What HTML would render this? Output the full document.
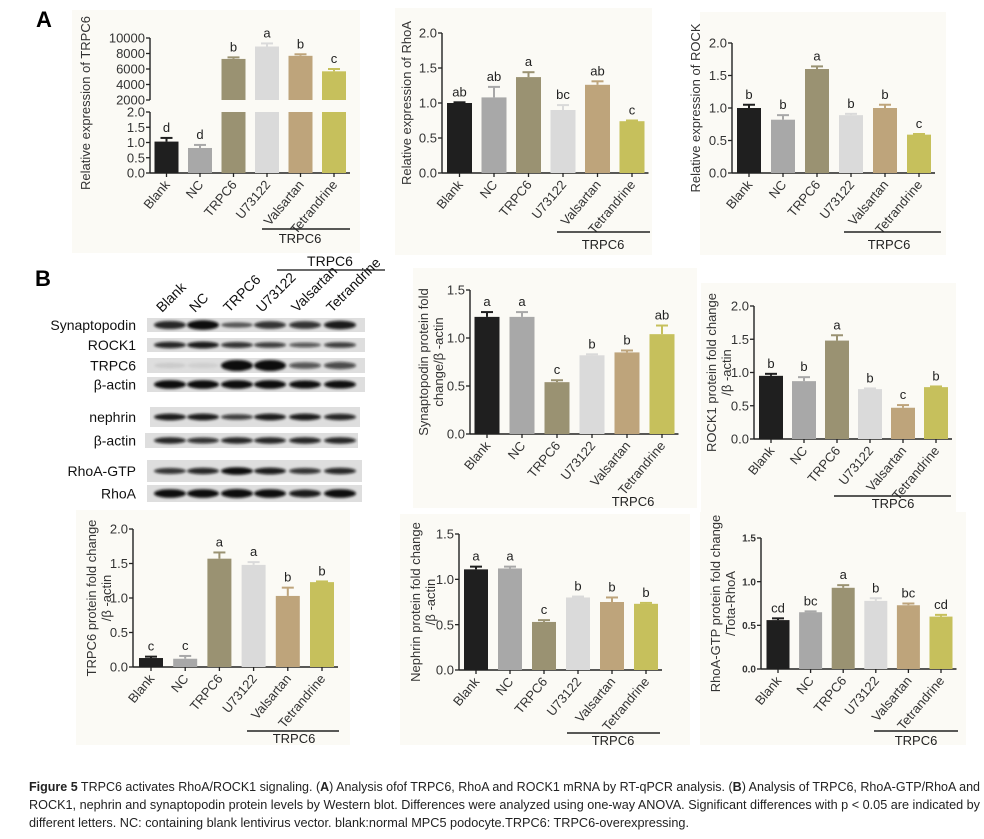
<!DOCTYPE html>
<html><head><meta charset="utf-8"><style>
body{margin:0;background:#fff}
svg{display:block;font-family:"Liberation Sans",Arial,sans-serif}
</style></head><body>
<svg id="fig" width="984" height="839" viewBox="0 0 984 839" xmlns="http://www.w3.org/2000/svg">
<defs><filter id="blur" x="-20%" y="-50%" width="140%" height="200%"><feGaussianBlur stdDeviation="1.2"/></filter></defs>
<text x="36" y="27" font-size="22" font-weight="bold">A</text>
<text x="35" y="286" font-size="22" font-weight="bold">B</text>
<g id="blot"></g>
<g id="charts"></g>
<g font-family="'Liberation Sans Narrow','Liberation Sans',sans-serif" font-size="13" fill="#222">
<text x="29" y="791" textLength="951" lengthAdjust="spacingAndGlyphs"><tspan font-weight="bold">Figure 5</tspan> TRPC6 activates RhoA/ROCK1 signaling. (<tspan font-weight="bold">A</tspan>) Analysis ofof TRPC6, RhoA and ROCK1 mRNA by RT-qPCR analysis. (<tspan font-weight="bold">B</tspan>) Analysis of TRPC6, RhoA-GTP/RhoA and</text>
<text x="29" y="809" textLength="951" lengthAdjust="spacingAndGlyphs">ROCK1, nephrin and synaptopodin protein levels by Western blot. Differences were analyzed using one-way ANOVA. Significant differences with p &lt; 0.05 are indicated by</text>
<text x="29" y="827" textLength="660" lengthAdjust="spacingAndGlyphs">different letters. NC: containing blank lentivirus vector. blank:normal MPC5 podocyte.TRPC6: TRPC6-overexpressing.</text>
</g>
</svg>
<script>
const categories = ["Blank","NC","TRPC6","U73122","Valsartan","Tetrandrine"];
const barColors = ["#1f1f1f","#a8a8a8","#9a9272","#dadada","#bea47b","#c6c05c"];
// values, error tops, letters per panel
const trpc6MrnaValues = [1.03,0.82,7300,8900,7700,5700];
const trpc6MrnaErr = [1.15,0.92,7500,9300,7900,6000];
const trpc6MrnaLetters = ["d","d","b","a","b","c"];
const rhoaMrnaValues = [1.0,1.08,1.37,0.9,1.26,0.74];
const rhoaMrnaErr = [1.01,1.23,1.44,0.97,1.31,0.75];
const rhoaMrnaLetters = ["ab","ab","a","bc","ab","c"];
const rockMrnaValues = [1.0,0.82,1.6,0.89,1.0,0.59];
const rockMrnaErr = [1.05,0.89,1.64,0.91,1.05,0.6];
const rockMrnaLetters = ["b","b","a","b","b","c"];
const synValues = [1.22,1.22,0.54,0.82,0.85,1.04];
const synErr = [1.27,1.27,0.56,0.83,0.87,1.13];
const synLetters = ["a","a","c","b","b","ab"];
const rock1ProtValues = [0.95,0.87,1.48,0.75,0.47,0.78];
const rock1ProtErr = [0.98,0.93,1.56,0.76,0.51,0.79];
const rock1ProtLetters = ["b","b","a","b","c","b"];
const trpc6ProtValues = [0.13,0.12,1.57,1.48,1.03,1.23];
const trpc6ProtErr = [0.15,0.16,1.66,1.52,1.15,1.24];
const trpc6ProtLetters = ["c","c","a","a","b","b"];
const nephrinValues = [1.11,1.12,0.53,0.8,0.75,0.73];
const nephrinErr = [1.14,1.14,0.55,0.81,0.8,0.74];
const nephrinLetters = ["a","a","c","b","b","b"];
const rhoaGtpValues = [0.56,0.65,0.93,0.78,0.73,0.6];
const rhoaGtpErr = [0.58,0.66,0.96,0.81,0.75,0.62];
const rhoaGtpLetters = ["cd","bc","a","b","bc","cd"];
const ticks2 = ["0.0","0.5","1.0","1.5","2.0"];
const ticks15 = ["0.0","0.5","1.0","1.5"];
const ticksUpper = ["2000","4000","6000","8000","10000"];
// blot band intensities (0-1) per row per lane
const blotRows = ["Synaptopodin","ROCK1","TRPC6","β-actin","nephrin","β-actin","RhoA-GTP","RhoA"];
const blotSyn = [0.8,0.95,0.55,0.75,0.75,0.85];
const blotRock = [0.8,0.85,0.75,0.7,0.6,0.7];
const blotTrpc = [0.08,0.06,1,1,0.6,0.65];
const blotActin1 = [0.95,0.95,0.95,0.95,0.9,0.9];
const blotNeph = [0.85,0.85,0.7,0.85,0.85,0.8];
const blotActin2 = [0.8,0.75,0.8,0.8,0.8,0.8];
const blotGtp = [0.75,0.8,0.95,0.85,0.75,0.8];
const blotRhoa = [0.95,0.95,1,0.95,0.85,0.95];

const NS="http://www.w3.org/2000/svg";
function el(tag,attrs,parent,txt){const e=document.createElementNS(NS,tag);for(const k in attrs)e.setAttribute(k,attrs[k]);if(txt!==undefined)e.textContent=txt;parent.appendChild(e);return e;}
const charts=document.getElementById('charts');

function panel(c){
  const g=el('g',{},charts);
  
  
  const bg=el('rect',{x:c.bg[0],y:c.bg[1],width:c.bg[2]-c.bg[0],height:c.bg[3]-c.bg[1],fill:'#fbfaf5'},g);
  
  
  const yS=v=>c.base-(v/c.max)*(c.base-c.top);
  const xS=i=>c.x0+i*c.sp;
  const tf=c.tickFont||13;
  c.ticks.forEach(t=>{const v=parseFloat(t);const y=yS(v);
    el('line',{x1:c.axisX-4,x2:c.axisX,y1:y,y2:y,stroke:'#222','stroke-width':1.3},g);
    const tt=el('text',{x:c.axisX-5,y:y+tf*0.36,'font-size':tf,'text-anchor':'end',fill:'#333','font-weight':c.tickBold?'bold':'normal'},g,t);
    
    
  });
  const last=xS(categories.length-1)+c.bw/2+4;
  const ax=el('line',{x1:c.axisX,x2:c.axisX,y1:c.top,y2:c.base,stroke:'#222','stroke-width':1.4},g);
  
  
  const xa=el('line',{x1:c.axisX,x2:last,y1:c.base,y2:c.base,stroke:'#222','stroke-width':1.4},g);
  
  
  c.values.forEach((v,i)=>{
    const cx=xS(i);const yv=yS(v),ye=yS(c.err[i]);
    const r=el('rect',{x:cx-c.bw/2,y:yv,width:c.bw,height:c.base-yv,fill:barColors[i]},g);
    
    
    el('line',{x1:cx,x2:cx,y1:ye,y2:yv,stroke:barColors[i],'stroke-width':2},g);
    el('line',{x1:cx-6,x2:cx+6,y1:ye,y2:ye,stroke:barColors[i],'stroke-width':2},g);
    const lt=el('text',{x:cx,y:ye-6,'font-size':13,'text-anchor':'middle',fill:'#222'},g,c.letters[i]);
    
    
    el('line',{x1:cx,x2:cx,y1:c.base,y2:c.base+4,stroke:'#222','stroke-width':1.3},g);
    const xl=el('text',{x:cx+4,y:c.base+12,'font-size':13,'text-anchor':'end',fill:'#333',transform:`rotate(-50 ${cx+4} ${c.base+12})`},g,categories[i]);
    
    
  });
  const cy=(c.top+c.base)/2;
  c.title.forEach((t,k)=>{const x=c.titleX+k*15;
    const tt=el('text',{x:x,y:cy,'font-size':13,'text-anchor':'middle',fill:'#333',transform:`rotate(-90 ${x} ${cy})`},g,t);
    
    
  });
  if(c.line){const l=el('line',{x1:c.line[0],x2:c.line[1],y1:c.line[2],y2:c.line[2],stroke:'#222','stroke-width':1.5},g);
    
    }
  const gt=el('text',{x:c.gText[0],y:c.gText[1],'font-size':13,'text-anchor':'middle',fill:'#222'},g,'TRPC6');
  
  
}

(function(){
  const g=el('g',{},charts);
  
  
  el('rect',{x:72,y:10,width:288,height:243,fill:'#fbfaf5'},g);
  const ax=150,lb=173,lt=112,ub=100,ut=38;
  const yL=v=>lb-(v/2)*(lb-lt);
  const yU=v=>ub-((v-2000)/8000)*(ub-ut);
  const xS=i=>166.5+i*33.5,bw=24;
  ticks2.forEach(t=>{const y=yL(parseFloat(t));el('line',{x1:ax-4,x2:ax,y1:y,y2:y,stroke:'#222','stroke-width':1.3},g);
    const tt=el('text',{x:ax-5,y:y+4.5,'font-size':13,'text-anchor':'end',fill:'#333'},g,t);
    
    });
  ticksUpper.forEach(t=>{const y=yU(parseFloat(t));el('line',{x1:ax-4,x2:ax,y1:y,y2:y,stroke:'#222','stroke-width':1.3},g);
    const tt=el('text',{x:ax-5,y:y+4.5,'font-size':13,'text-anchor':'end',fill:'#333'},g,t);
    
    });
  el('line',{x1:ax,x2:ax,y1:lt,y2:lb,stroke:'#222','stroke-width':1.4},g);
  el('line',{x1:ax,x2:ax,y1:ut,y2:ub,stroke:'#222','stroke-width':1.4},g);
  el('line',{x1:ax,x2:350,y1:lb,y2:lb,stroke:'#222','stroke-width':1.4},g);
  trpc6MrnaValues.forEach((v,i)=>{const cx=xS(i);let ye;
    if(v<=2){const y=yL(v);ye=yL(trpc6MrnaErr[i]);
      const r=el('rect',{x:cx-bw/2,y:y,width:bw,height:lb-y,fill:barColors[i]},g);
      
      
      el('line',{x1:cx,x2:cx,y1:ye,y2:y,stroke:barColors[i],'stroke-width':2},g);
    } else {const y=yU(v);ye=yU(trpc6MrnaErr[i]);
      const r=el('rect',{x:cx-bw/2,y:y,width:bw,height:ub-y,fill:barColors[i]},g);
      
      
      el('rect',{x:cx-bw/2,y:lt,width:bw,height:lb-lt,fill:barColors[i]},g);
      el('line',{x1:cx,x2:cx,y1:ye,y2:y,stroke:barColors[i],'stroke-width':2},g);}
    el('line',{x1:cx-6,x2:cx+6,y1:ye,y2:ye,stroke:barColors[i],'stroke-width':2},g);
    const l=el('text',{x:cx,y:ye-6,'font-size':13,'text-anchor':'middle',fill:'#222'},g,trpc6MrnaLetters[i]);
    
    
    el('line',{x1:cx,x2:cx,y1:lb,y2:lb+4,stroke:'#222','stroke-width':1.3},g);
    const xl=el('text',{x:cx+4,y:lb+12,'font-size':13,'text-anchor':'end',fill:'#333',transform:`rotate(-50 ${cx+4} ${lb+12})`},g,categories[i]);
    
    
  });
  const tt=el('text',{x:90,y:103,'font-size':13,'text-anchor':'middle',fill:'#333',transform:'rotate(-90 90 103)'},g,'Relative expression of TRPC6');
  
  
  const bl=el('line',{x1:262,x2:350,y1:229,y2:229,stroke:'#222','stroke-width':1.5},g);
  
  
  const gl=el('text',{x:300,y:243,'font-size':13,'text-anchor':'middle',fill:'#222'},g,'TRPC6');
  
  
})();

panel({name:'chart-rhoa-mrna',bg:[395,8,652,255],axisX:442,top:33,base:173,max:2,ticks:ticks2,x0:459.5,sp:34.5,bw:25,values:rhoaMrnaValues,err:rhoaMrnaErr,letters:rhoaMrnaLetters,title:['Relative expression of RhoA'],titleX:411,line:[557,650,232],gText:[603,249]});
panel({name:'chart-rock-mrna',bg:[700,12,946,255],axisX:732,top:43,base:173,max:2,ticks:ticks2,x0:749,sp:34,bw:24,values:rockMrnaValues,err:rockMrnaErr,letters:rockMrnaLetters,title:['Relative expression of ROCK'],titleX:700,line:[844,941,232],gText:[889,249]});
panel({name:'chart-synaptopodin-protein',bg:[413,268,697,508],axisX:470,top:290,base:434,max:1.5,ticks:ticks15,x0:487,sp:35,bw:25,values:synValues,err:synErr,letters:synLetters,title:['Synaptopodin protein fold','change/β -actin'],titleX:428,line:null,gText:[633,506]});
panel({name:'chart-rock1-protein',bg:[701,283,956,512],axisX:754,top:306,base:439,max:2,ticks:ticks2,x0:771,sp:33,bw:24,values:rock1ProtValues,err:rock1ProtErr,letters:rock1ProtLetters,title:['ROCK1 protein fold change','/β -actin'],titleX:716,line:[834,951,496],gText:[893,508]});
panel({name:'chart-trpc6-protein',bg:[76,510,350,745],axisX:133,top:529,base:667,max:2,ticks:ticks2,x0:151,sp:34.2,bw:24,values:trpc6ProtValues,err:trpc6ProtErr,letters:trpc6ProtLetters,title:['TRPC6 protein fold change','/β -actin'],titleX:96,line:[247,339,731],gText:[294,743]});
panel({name:'chart-nephrin-protein',bg:[400,514,690,745],axisX:459,top:534,base:670,max:1.5,ticks:ticks15,x0:476,sp:34,bw:24,values:nephrinValues,err:nephrinErr,letters:nephrinLetters,title:['Nephrin protein fold change','/β -actin'],titleX:420,line:[567,660,733],gText:[613,745]});
panel({name:'chart-rhoa-gtp-protein',bg:[700,512,966,745],axisX:761,top:538,base:669,max:1.5,ticks:ticks15,tickFont:10,tickBold:true,x0:778,sp:32.6,bw:23,values:rhoaGtpValues,err:rhoaGtpErr,letters:rhoaGtpLetters,title:['RhoA-GTP protein fold change','/Tota-RhoA'],titleX:720,line:[874,958,731],gText:[916,745]});

(function(){
  const g=document.getElementById('blot');
  const laneX=[170,203,237,270,305,340];
  const rows=[[318,332,147,365,blotSyn,10],[338,352,147,365,blotRock,8],[358,373,147,365,blotTrpc,11],[377,392,147,365,blotActin1,9],[407,427,150,360,blotNeph,8],[433,448,145,358,blotActin2,8],[460,482,147,362,blotGtp,8],[485,502,147,362,blotRhoa,9]];
  rows.forEach((r,k)=>{
    const s=el('rect',{x:r[2],y:r[0],width:r[3]-r[2],height:r[1]-r[0],fill:'#dedede'},g);
    
    
    const cy=(r[0]+r[1])/2;
    r[4].forEach((v,i)=>{
      el('ellipse',{cx:laneX[i],cy:cy,rx:16,ry:r[5]/2*Math.max(0.5,v),fill:'#0a0a0a','fill-opacity':Math.min(1,v*1.1),filter:'url(#blur)'},g);
    });
    const t=el('text',{x:136,y:cy+5,'font-size':14,'text-anchor':'end',fill:'#111'},g,blotRows[k]);
    
    
  });
  categories.forEach((c,i)=>{const x=laneX[i]-8,y=313;
    const t=el('text',{x:x,y:y,'font-size':14,fill:'#111',transform:`rotate(-45 ${x} ${y})`},g,c);
    
    });
  const l=el('line',{x1:277,x2:385,y1:270,y2:270,stroke:'#111','stroke-width':1.3},g);
  
  
  const t=el('text',{x:330,y:266,'font-size':14,'text-anchor':'middle',fill:'#111'},g,'TRPC6');
  
  
})();
</script>
</body></html>
